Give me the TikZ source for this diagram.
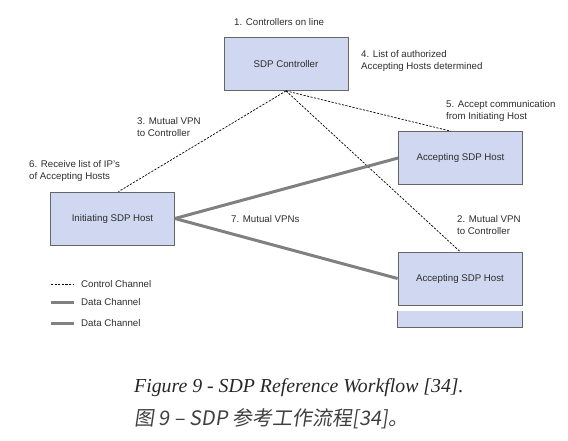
\documentclass[tikz,border=0pt]{standalone}
\usepackage{fontspec}
\setsansfont{Liberation Sans}
\newfontfamily\capfont{Liberation Serif}
\newfontfamily\cjk[FakeSlant=0.15]{Noto Sans CJK SC}
\usepackage{xcolor}
\definecolor{boxblue}{RGB}{207,216,240}
\definecolor{boxline}{RGB}{102,102,102}
\definecolor{datagray}{RGB}{128,128,128}
\definecolor{labelgray}{RGB}{45,45,45}

\begin{document}
\begin{tikzpicture}[
            x=1pt, y=-1pt, % pixel coordinates, y going down
            box/.style={rectangle, draw=boxline, line width=0.8pt, fill=boxblue, minimum width=124pt, minimum height=53pt, inner sep=0pt, font=\sffamily\fontsize{9.7}{12}\selectfont, text=labelgray}, % hosts and controller
            lbl/.style={anchor=west, align=left, inner sep=0pt, font=\sffamily\fontsize{9.7}{12}\selectfont, text=labelgray}, % step labels
            ctrlchan/.style={black, line width=0.7pt, dash pattern=on 2.2pt off 1.4pt}, % control channel
            datachan/.style={datagray, line width=3pt} % data channel
            ]
    \useasboundingbox (0,0) rectangle (568,440);

    % boxes
    \node[box] (ctrl) at (286,64) {SDP Controller};
    \node[box] (acc1) at (460.5,158) {Accepting SDP Host};
    \node[box] (init) at (112.5,218.5) {Initiating SDP Host};
    \node[box] (acc2) at (460,278.5) {Accepting SDP Host};
    % cut-off box below the second host
    \node[box, draw=none, minimum height=16pt] (acc3) at (460,319) {};
    \draw[boxline, line width=0.8pt] (acc3.north west) -- (acc3.south west) -- (acc3.south east) -- (acc3.north east);

    % channels
    \draw[ctrlchan] (ctrl.south) -- ([xshift=6pt]init.north);
    \draw[ctrlchan] (ctrl.south) -- ([xshift=-10pt]acc1.north);
    \draw[ctrlchan] (ctrl.south) -- (acc2.north);
    \draw[datachan] (init.east) -- (acc1.west);
    \draw[datachan] (init.east) -- (acc2.west);

    % steps
    \node[lbl] (s1) at (234,22) {1. Controllers on line};
    \node[lbl] (s4) at (361,61) {4. List of authorized\\Accepting Hosts determined};
    \node[lbl] (s5) at (446,110.5) {5. Accept communication\\from Initiating Host};
    \node[lbl] (s3) at (137,127.5) {3. Mutual VPN\\to Controller};
    \node[lbl] (s6) at (29,171) {6. Receive list of IP's\\of Accepting Hosts};
    \node[lbl] (s7) at (231,219) {7. Mutual VPNs};
    \node[lbl] (s2) at (457,225) {2. Mutual VPN\\to Controller};

    % legend
    \node[lbl] (legc) at (81,284) {Control Channel};
    \node[lbl] (legd) at (81,302) {Data Channel};
    \node[lbl] (lege) at (81,323) {Data Channel};
    \draw[ctrlchan] ([xshift=-30pt]legc.west) -- ([xshift=-7pt]legc.west);
    \draw[datachan] ([xshift=-30pt]legd.west) -- ([xshift=-7pt]legd.west);
    \draw[datachan] ([xshift=-30pt]lege.west) -- ([xshift=-7pt]lege.west);

    % captions
    \node[anchor=west, inner sep=0pt, font=\capfont\itshape\fontsize{19.8}{22}\selectfont, text=black!85] (fig) at (134,388) {Figure 9 - SDP Reference Workflow [34].};
    \node[anchor=west, inner sep=0pt, font=\cjk\fontsize{20}{22}\selectfont, text=black!75] (figcn) at (134,419) {图 9 – SDP 参考工作流程[34]。};
\end{tikzpicture}
\end{document}
